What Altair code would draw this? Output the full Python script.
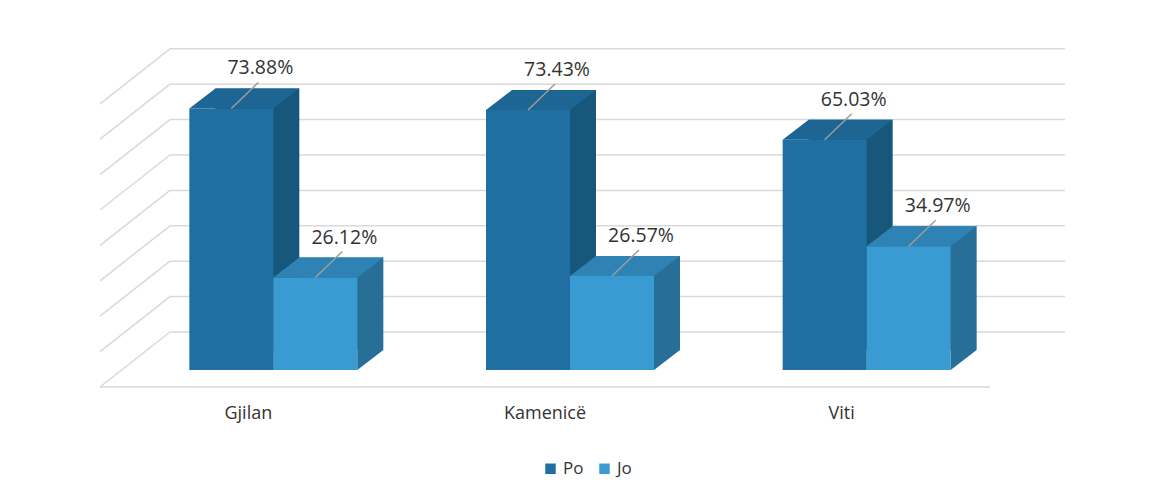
import altair as alt
import pandas as pd

categories = ["Gjilan", "Kamenicë", "Viti"]
series = ["Po", "Jo"]
po_values = [73.88, 73.43, 65.03]
jo_values = [26.12, 26.57, 34.97]
grid_values = [0, 10, 20, 30, 40, 50, 60, 70, 80]

# colours (front, top, side)
colors = {
    "Po": ("#1f6fa3", "#1d6592", "#17577c"),
    "Jo": ("#3a9bd2", "#2e83b4", "#276f96"),
}
x_shift = {"Po": -17, "Jo": 67}

rows = []
for c, p, j in zip(categories, po_values, jo_values):
    rows.append({"cat": c, "series": "Po", "value": p})
    rows.append({"cat": c, "series": "Jo", "value": j})
df = pd.DataFrame(rows)
df["label"] = df["value"].map(lambda v: f"{v:.2f}%")
df["zero"] = 0.0
grid_df = pd.DataFrame({"v": grid_values})
floor_df = pd.DataFrame({"v": [0]})
cat_df = pd.DataFrame({"cat": categories})

FONT = "Open Sans"
GRID = "#d9d9d9"
xenc = alt.X("cat:N", sort=categories,
             scale=alt.Scale(domain=categories, paddingInner=0, paddingOuter=0),
             axis=None)
yscale = alt.Scale(domain=[0, 100])


def Y(field):
    return alt.Y(field, scale=yscale, axis=None)


base = alt.Chart(df)

grid = alt.Chart(grid_df).mark_rule(color=GRID, strokeWidth=1.5, yOffset=-38).encode(
    y=Y("v:Q"), x=alt.value(70), x2=alt.value(965),
)
diag = alt.Chart(grid_df).mark_point(
    shape="M0,0L-70,55", size=4, filled=False, color=GRID,
    strokeWidth=1.5, opacity=1, yOffset=-38,
).encode(y=Y("v:Q"), x=alt.value(70))
floor = alt.Chart(floor_df).mark_rule(
    color=GRID, strokeWidth=1.5, yOffset=17
).encode(y=Y("v:Q"), x=alt.value(0), x2=alt.value(890))

layers = [grid, diag, floor]

for s in series:
    front_c, top_c, side_c = colors[s]
    xo = x_shift[s]
    b = base.transform_filter(alt.datum.series == s)
    back = b.mark_bar(width=84, xOffset=xo + 26, yOffset=-20, y2Offset=-20,
                      color=side_c).encode(x=xenc, y=Y("value:Q"), y2="zero:Q")
    front = b.mark_bar(width=84, xOffset=xo).encode(
        x=xenc, y=Y("value:Q"), y2="zero:Q",
        color=alt.Color("series:N",
                        scale=alt.Scale(domain=series,
                                        range=[colors["Po"][0], colors["Jo"][0]]),
                        legend=alt.Legend(
                            title=None, orient="none", legendX=442, legendY=444,
                            direction="horizontal", symbolType="square",
                            symbolSize=110, symbolStrokeWidth=0,
                            labelFont=FONT, labelFontSize=17, labelColor="#333333",
                            columnPadding=12, labelOffset=4, padding=0)))
    top = b.mark_point(shape="M-42,0L42,0L68,-20L-16,-20Z", size=4, filled=True,
                       opacity=1, color=top_c, xOffset=xo).encode(
        x=xenc, y=Y("value:Q"))
    bot = b.mark_point(shape="M42,0L42,-20L68,-20Z", size=4, filled=True,
                       opacity=1, color=side_c, xOffset=xo).encode(
        x=xenc, y=Y("zero:Q"))
    leader = b.mark_point(shape="M0,0L27,-26", size=4, filled=False, opacity=1,
                          color="#9d9d9d", strokeWidth=1.5, xOffset=xo).encode(
        x=xenc, y=Y("value:Q"))
    text = b.mark_text(font=FONT, fontSize=19.5, color="#333333", baseline="alphabetic",
                       dx=xo + 29, dy=-34).encode(
        x=xenc, y=Y("value:Q"), text="label:N")
    layers += [back, front, top, bot, leader, text]

cat_labels = alt.Chart(cat_df).mark_text(
    font=FONT, fontSize=18, color="#333333", baseline="alphabetic"
).encode(x=xenc, y=alt.value(403), text="cat:N")
layers.append(cat_labels)

chart = alt.layer(*layers).properties(
    width=890, height=354,
    autosize=alt.AutoSizeParams(type="none"),
    padding={"left": 92, "top": 8, "right": 153, "bottom": 124},
    background="white",
).configure_view(stroke=None)

chart.save("out.html", embed_options={"renderer": "svg", "actions": False})
